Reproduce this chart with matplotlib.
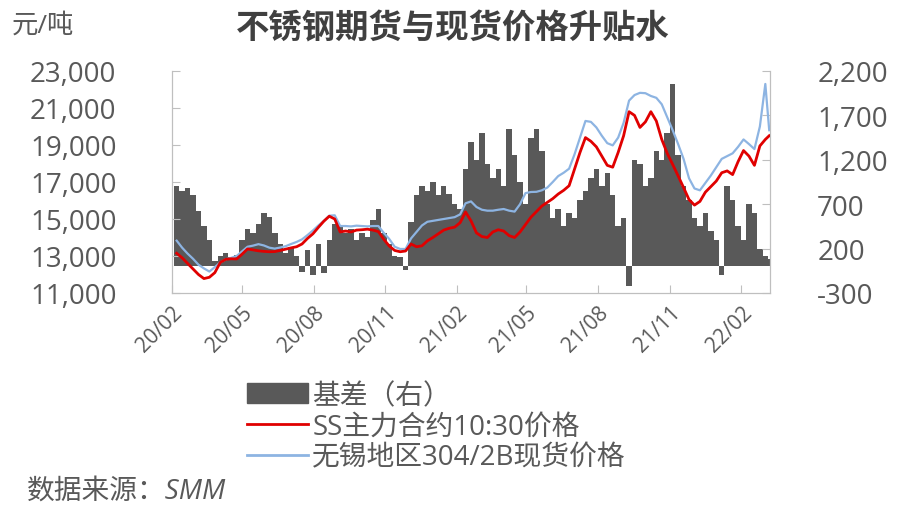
import pandas as pd
import matplotlib.pyplot as plt
import matplotlib.dates as mdates
from matplotlib.patches import Patch
from matplotlib.lines import Line2D
from matplotlib.ticker import FuncFormatter

plt.rcParams['font.family'] = ['Open Sans', 'Noto Sans CJK SC', 'DejaVu Sans']

# weekly dates (Fridays) plus the last trading day
dates = list(pd.date_range('2020-02-07', '2022-03-04', freq='W-FRI')) + [pd.Timestamp('2022-03-09')]

# SS主力合约10:30价格 (元/吨)
futures = [
    13150, 12900, 12600, 12300, 12000, 11780, 11850, 12100, 12650, 12820,
    12850, 12840, 13100, 13380, 13330, 13280, 13250, 13230, 13240, 13300,
    13370, 13440, 13500, 13650, 13950, 14200, 14550, 14880, 15150, 15000,
    14300, 14350, 14300, 14400, 14420, 14450, 14400, 14320, 13900, 13540,
    13300, 13230, 13270, 13650, 13500, 13550, 13820, 14000, 14200, 14400,
    14500, 14560, 14800, 15380, 14900, 14250, 14050, 14000, 14300, 14420,
    14350, 14100, 14000, 14300, 14700, 15100, 15400, 15700, 15900, 16100,
    16350, 16550, 16800, 17700, 18600, 19400, 19200, 18900, 18400, 17900,
    17800, 18600, 19500, 20800, 20600, 19950, 20250, 20800, 20300, 19300,
    18550, 17950, 17330, 16700, 16050, 15750, 15950, 16450, 16750, 17050,
    17500, 17600, 17400, 18100, 18700, 18400, 17900, 18950, 19300, 19500,
]

# 无锡地区304/2B现货价格 (元/吨)
spot = [
    13830, 13450, 13130, 12850, 12530, 12330, 12160, 12400, 12650, 12820,
    12900, 13000, 13250, 13500, 13560, 13640, 13570, 13450, 13400, 13460,
    13530, 13650, 13760, 13900, 14130, 14380, 14650, 14900, 15180, 15200,
    14620, 14620, 14600, 14640, 14620, 14600, 14620, 14620, 14250, 13920,
    13500, 13380, 13380, 13950, 14300, 14650, 14850, 14900, 14950, 15000,
    15050, 15100, 15250, 15850, 15950, 15650, 15500, 15450, 15450, 15500,
    15540, 15450, 15400, 15800, 16400, 16460, 16470, 16550, 16700, 17000,
    17320, 17500, 17720, 18500, 19400, 20300, 20250, 19950, 19500, 19100,
    18980, 19400, 20200, 21400, 21700, 21820, 21800, 21650, 21550, 21200,
    20500, 19800, 19050, 18250, 17200, 16650, 16550, 16950, 17350, 17800,
    18250, 18400, 18550, 18900, 19300, 19050, 18780, 20000, 22300, 19800,
]

# 基差 (右轴, 元/吨)
basis = [
    900, 850, 880, 800, 620, 450, 300, 60, 120, 150,
    100, 130, 300, 420, 380, 480, 600, 560, 380, 250,
    150, 220, 120, -60, 180, -100, 250, -80, 300, 480,
    450, 380, 420, 300, 380, 330, 520, 650, 380, 250,
    120, 100, -40, 500, 800, 900, 850, 950, 800, 900,
    820, 700, 650, 1100, 1400, 1200, 1500, 1150, 1000, 1100,
    900, 1550, 1250, 950, 700, 1450, 1550, 1300, 700, 550,
    650, 450, 600, 550, 750, 850, 1000, 1100, 900, 1050,
    800, 450, 550, -220, 1200, 1150, 900, 1000, 1300, 1200,
    1500, 2050, 1250, 900, 750, 550, 450, 600, 400, 300,
    -100, 900, 750, 450, 300, 700, 600, 200, 120, 80,
]

grey_text = '#595959'
spine_col = '#bfbfbf'

fig = plt.figure(figsize=(8.97, 5.06), dpi=100)
ax1 = fig.add_axes([172 / 897, 1 - 294 / 506, 598 / 897, 222 / 506])
ax2 = ax1.twinx()

ax2.bar(dates, basis, width=7, color='#595959', linewidth=0)
ax1.plot(dates, spot, color='#8db4e2', lw=1.6, zorder=3)
ax1.plot(dates, futures, color='#e00000', lw=2.0, zorder=4)

ax1.set_zorder(ax2.get_zorder() + 1)
ax1.patch.set_visible(False)

ax1.set_xlim(pd.Timestamp('2020-02-01'), pd.Timestamp('2022-03-10'))
ax1.set_ylim(11000, 23000)
ax1.set_yticks(range(11000, 23001, 2000))
ax2.set_ylim(-300, 2200)
ax2.set_yticks(range(-300, 2201, 500))
fmt = FuncFormatter(lambda v, p: f'{int(v):,}')
ax1.yaxis.set_major_formatter(fmt)
ax2.yaxis.set_major_formatter(fmt)

ax1.xaxis.set_major_locator(mdates.MonthLocator(bymonth=[2, 5, 8, 11]))
ax1.xaxis.set_major_formatter(mdates.DateFormatter('%y/%m'))

for ax in (ax1, ax2):
    ax.spines['top'].set_visible(False)
    for s in ('left', 'right', 'bottom'):
        ax.spines[s].set_color(spine_col)
ax1.tick_params(axis='y', direction='in', length=6, color=spine_col,
                labelsize=20, labelcolor=grey_text, pad=40)
ax2.tick_params(axis='y', direction='in', length=6, color=spine_col,
                labelsize=20, labelcolor=grey_text, pad=34)
ax1.tick_params(axis='x', direction='in', length=6, color=spine_col,
                labelsize=15, labelcolor=grey_text, pad=6)
for lab in ax1.get_xticklabels():
    lab.set_rotation(45)
    lab.set_ha('right')
    lab.set_rotation_mode('anchor')

fig.text(0.013, 1 - 26 / 506, '元/吨', fontsize=19, color=grey_text, va='center')
fig.text(0.505, 1 - 30 / 506, '不锈钢期货与现货价格升贴水', fontsize=24,
         fontweight='bold', color='#404040', ha='center', va='center')

handles = [Patch(color='#595959'),
           Line2D([], [], color='#e00000', lw=2),
           Line2D([], [], color='#8db4e2', lw=2)]
labels = ['基差（右）', 'SS主力合约10:30价格', '无锡地区304/2B现货价格']
fig.legend(handles, labels, loc='upper left', bbox_to_anchor=(233 / 897, 1 - 369 / 506),
           frameon=False, fontsize=20, labelcolor=grey_text, borderpad=0,
           handlelength=2.2, handleheight=0.7, handletextpad=0.15, labelspacing=0.1)

fig.text(0.03, 1 - 492 / 506, '数据来源：SMM', fontsize=20, color=grey_text,
         style='italic', va='center')

fig.savefig('out.png', dpi=100)
